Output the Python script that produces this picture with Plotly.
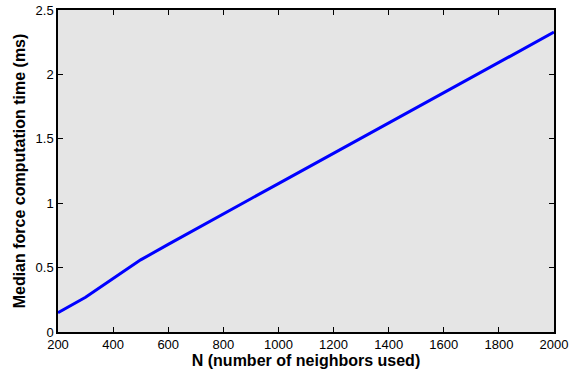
import plotly.graph_objects as go

n_neighbors = [200, 300, 400, 500, 600, 700, 800, 900, 1000, 1100, 1200, 1300,
               1400, 1500, 1600, 1700, 1800, 1900, 2000]
median_ms = [0.15, 0.27, 0.415, 0.56, 0.68, 0.80, 0.917, 1.035, 1.152, 1.27, 1.388,
             1.505, 1.623, 1.74, 1.858, 1.975, 2.093, 2.21, 2.328]

x_ticks = [200, 400, 600, 800, 1000, 1200, 1400, 1600, 1800, 2000]
y_ticks = [0, 0.5, 1, 1.5, 2, 2.5]
y_tick_labels = ["0", "0.5", "1", "1.5", "2", "2.5"]

fig = go.Figure()
fig.add_trace(go.Scatter(x=n_neighbors, y=median_ms, mode="lines",
                         line=dict(color="#0000ff", width=3), showlegend=False))

font = "Liberation Sans, Arial, Helvetica, sans-serif"
fig.update_layout(
    width=571, height=370,
    margin=dict(l=58, r=17, t=10, b=38),
    paper_bgcolor="white", plot_bgcolor="#e5e5e5",
    font=dict(family=font, size=13, color="black"),
    xaxis=dict(range=[200, 2000], tickvals=x_ticks, ticks="inside", ticklen=5,
               tickcolor="black", showline=True, linecolor="black", linewidth=1.5,
               mirror="ticks", showgrid=False, zeroline=False, automargin=False,
               title=dict(text="<b>N (number of neighbors used)</b>", standoff=3,
                          font=dict(size=16))),
    yaxis=dict(range=[0, 2.5], tickvals=y_ticks, ticktext=y_tick_labels,
               ticks="inside", ticklen=5, tickcolor="black", showline=True,
               linecolor="black", linewidth=1.5, mirror="ticks", showgrid=False,
               zeroline=False, automargin=False,
               title=dict(text="<b>Median force computation time (ms)</b>", standoff=6,
                          font=dict(size=16))),
)

fig.write_html(
    "out.html",
    config={"displayModeBar": False},
    post_script="document.body.style.margin='0px';document.body.style.overflow='hidden';",
)
